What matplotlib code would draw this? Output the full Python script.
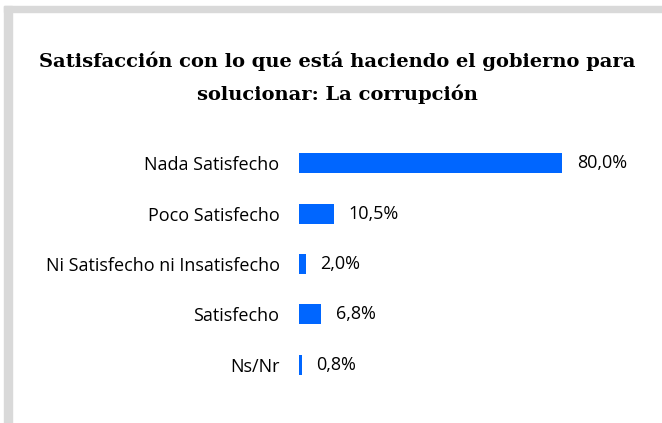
import matplotlib
matplotlib.use('Agg')
import matplotlib.pyplot as plt
from matplotlib.patches import Rectangle

plt.rcParams['font.family'] = ['Open Sans', 'DejaVu Sans']

# datos
categorias = ['Nada Satisfecho', 'Poco Satisfecho', 'Ni Satisfecho ni Insatisfecho',
              'Satisfecho', 'Ns/Nr']
valores = [80.0, 10.5, 2.0, 6.8, 0.8]
etiquetas = ['80,0%', '10,5%', '2,0%', '6,8%', '0,8%']

W, H = 662, 423
fig = plt.figure(figsize=(W / 100, H / 100), dpi=100)

# marco gris (arriba e izquierda)
fig.patches.append(Rectangle((4 / W, 1 - 12 / H), 1, 6 / H, transform=fig.transFigure,
                             color='#d9d9d9', zorder=0))
fig.patches.append(Rectangle((4 / W, 0), 8 / W, 1 - 6 / H, transform=fig.transFigure,
                             color='#d9d9d9', zorder=0))

# ejes: 0 -> x=299px, 100 -> x=628px ; filas centradas en 163..365px
ax = fig.add_axes([299 / W, 1 - 390 / H, 329 / W, (390 - 138) / H])
pos = list(range(len(categorias)))
ax.barh(pos, valores, height=0.4, color='#0066ff')
ax.set_xlim(0, 100)
ax.set_ylim(len(categorias) - 0.5, -0.5)

for p, v, t in zip(pos, valores, etiquetas):
    ax.text(v + 4.5, p, t, va='center', ha='left', fontsize=13, color='#000000')

ax.set_yticks(pos)
ax.set_yticklabels(categorias, fontsize=13)
ax.tick_params(axis='y', length=0, pad=14)
ax.set_xticks([])
for s in ax.spines.values():
    s.set_visible(False)

fig.text(337 / W, 1 - 61 / H, 'Satisfacción con lo que está haciendo el gobierno para',
         ha='center', va='center', fontsize=14, fontweight='bold',
         family='DejaVu Serif')
fig.text(337 / W, 1 - 94 / H, 'solucionar: La corrupción',
         ha='center', va='center', fontsize=14, fontweight='bold',
         family='DejaVu Serif')

fig.savefig('out.png', dpi=100)
